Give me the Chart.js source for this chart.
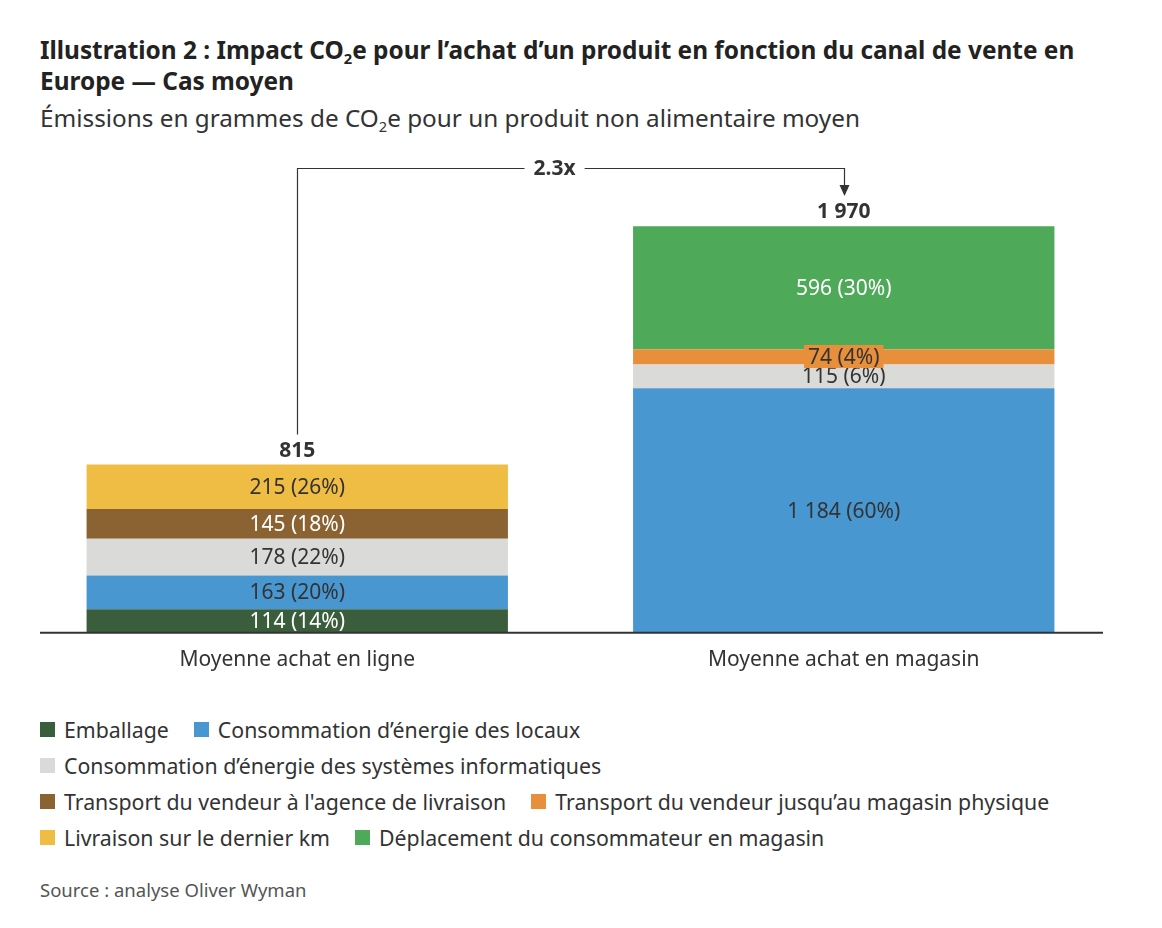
<!DOCTYPE html>
<html lang="fr">
<head>
<meta charset="utf-8">
<script src="https://cdn.jsdelivr.net/npm/chart.js@4"></script>
<style>
  body { margin: 0; background: #fff; font-family: "Noto Sans", sans-serif; color: #333; }
  .wrap { position: relative; width: 1162px; height: 928px; }
  h1 { position: absolute; left: 40px; top: 34px; width: 1080px; margin: 0; font-size: 24.4px; line-height: 31px; font-weight: 700; color: #222; }
  .sub { position: absolute; left: 40px; top: 103px; margin: 0; font-size: 24.3px; line-height: 30px; color: #333; }
  sub { font-size: 0.6em; vertical-align: -0.35em; line-height: 0; }
  #chartBox { position: absolute; left: 0; top: 140px; width: 1162px; height: 559px; }
  #legend { position: absolute; left: 40px; top: 711px; width: 1030px; display: flex; flex-wrap: wrap; column-gap: 25px; }
  .item { display: flex; align-items: center; height: 36px; font-size: 21.3px; color: #333; white-space: nowrap; }
  .sw { width: 15px; height: 15px; margin-right: 9px; flex: none; }
  .source { position: absolute; left: 40px; top: 879px; font-size: 18.5px; line-height: 22px; color: #555; }
</style>
</head>
<body>
<div class="wrap">
  <h1>Illustration 2 : Impact CO<sub>2</sub>e pour l’achat d’un produit en fonction du canal de vente en Europe — Cas moyen</h1>
  <p class="sub">Émissions en grammes de CO<sub>2</sub>e pour un produit non alimentaire moyen</p>
  <div id="chartBox"><canvas id="chart"></canvas></div>
  <div id="legend"></div>
  <div class="source">Source : analyse Oliver Wyman</div>
</div>
<script>
// ===== DATA =====
const categories = ['Moyenne achat en ligne', 'Moyenne achat en magasin'];

const seriesNames = [
    'Emballage',
    'Consommation d’énergie des locaux',
    'Consommation d’énergie des systèmes informatiques',
    "Transport du vendeur à l'agence de livraison",
    'Transport du vendeur jusqu’au magasin physique',
    'Livraison sur le dernier km',
    'Déplacement du consommateur en magasin'
];
const seriesColors = ['#3a5e3c', '#4897d0', '#dadad9', '#8b6232', '#e88f3c', '#f0bd44', '#4ea958'];
const labelColors = ['#fff', '#333', '#333', '#fff', '#333', '#333', '#fff'];

const emballage = [114, null];
const energieLocaux = [163, 1184];
const energieInformatique = [178, 115];
const transportAgence = [145, null];
const transportMagasin = [null, 74];
const livraisonDernierKm = [215, null];
const deplacementConsommateur = [null, 596];

const totals = [815, 1970];
const ratioLabel = '2.3x';

const seriesValues = [emballage, energieLocaux, energieInformatique, transportAgence,
    transportMagasin, livraisonDernierKm, deplacementConsommateur];

// ===== HELPERS =====
function fmt(v) {
    return String(v).replace(/\B(?=(\d{3})+(?!\d))/g, ' ');
}

// segment labels, totals, baseline and the 2.3x bracket
const annotate = {
    id: 'annotate',
    afterDatasetsDraw(chart) {
        const ctx = chart.ctx;
        const yScale = chart.scales.y;
        const base = yScale.getPixelForValue(0);
        ctx.save();
        ctx.textAlign = 'center';
        ctx.textBaseline = 'middle';

        chart.data.datasets.forEach((ds, i) => {
            chart.getDatasetMeta(i).data.forEach((bar, j) => {
                const v = ds.data[j];
                if (v == null) return;
                const text = fmt(v) + ' (' + Math.round(v / totals[j] * 100) + '%)';
                const cy = (bar.y + bar.base) / 2;
                ctx.font = '21px "Noto Sans"';
                if (bar.base - bar.y < 20) {
                    const w = ctx.measureText(text).width + 8;
                    ctx.fillStyle = ds.backgroundColor;
                    ctx.fillRect(bar.x - w / 2, cy - 12, w, 23);
                }
                ctx.fillStyle = labelColors[i];
                ctx.fillText(text, bar.x, cy + 1);
            });
        });

        // totals
        const meta0 = chart.getDatasetMeta(0);
        const tops = totals.map(t => yScale.getPixelForValue(t));
        const xs = meta0.data.map(b => b.x);
        ctx.font = 'bold 21px "Noto Sans"';
        ctx.fillStyle = '#333';
        totals.forEach((t, j) => ctx.fillText(fmt(t), xs[j], tops[j] - 14));

        // baseline
        ctx.strokeStyle = '#333';
        ctx.lineWidth = 2;
        ctx.beginPath();
        ctx.moveTo(40, base);
        ctx.lineTo(1103, base);
        ctx.stroke();

        // bracket
        const topY = chart.chartArea.top + 8.5;
        const x1 = Math.round(xs[0]) + 0.5, x2 = Math.round(xs[1]) + 0.5;
        const tx = x1 + (x2 - x1) * 0.47;
        const tw = ctx.measureText(ratioLabel).width;
        ctx.fillText(ratioLabel, tx, topY + 1);
        ctx.lineWidth = 1.2;
        ctx.beginPath();
        ctx.moveTo(x1, tops[0] - 30);
        ctx.lineTo(x1, topY);
        ctx.lineTo(tx - tw / 2 - 9, topY);
        ctx.moveTo(tx + tw / 2 + 9, topY);
        ctx.lineTo(x2, topY);
        ctx.lineTo(x2, tops[1] - 40);
        ctx.stroke();
        ctx.beginPath();
        ctx.moveTo(x2 - 5, tops[1] - 41);
        ctx.lineTo(x2 + 5, tops[1] - 41);
        ctx.lineTo(x2, tops[1] - 30);
        ctx.closePath();
        ctx.fill();
        ctx.restore();
    }
};

// ===== CHART =====
const datasets = seriesNames.map((name, i) => ({
    label: name,
    data: seriesValues[i],
    backgroundColor: seriesColors[i],
    borderWidth: 0,
    barPercentage: 1,
    categoryPercentage: 0.771
}));

new Chart(document.getElementById('chart').getContext('2d'), {
    type: 'bar',
    data: { labels: categories, datasets: datasets },
    options: {
        responsive: true,
        maintainAspectRatio: false,
        animation: false,
        layout: { padding: { top: 20, left: 24, right: 45, bottom: 11 } },
        plugins: { legend: { display: false }, tooltip: { enabled: false } },
        scales: {
            x: {
                stacked: true,
                grid: { display: false, drawTicks: false },
                border: { display: false },
                ticks: { color: '#333', padding: 15, font: { family: 'Noto Sans', size: 21 } }
            },
            y: { stacked: true, display: false, min: 0, max: 2290 }
        }
    },
    plugins: [annotate]
});

// legend built from the series arrays
const legend = document.getElementById('legend');
seriesNames.forEach((name, i) => {
    const item = document.createElement('div');
    item.className = 'item';
    item.innerHTML = '<span class="sw" style="background:' + seriesColors[i] + '"></span>' + name;
    legend.appendChild(item);
});
</script>
</body>
</html>
